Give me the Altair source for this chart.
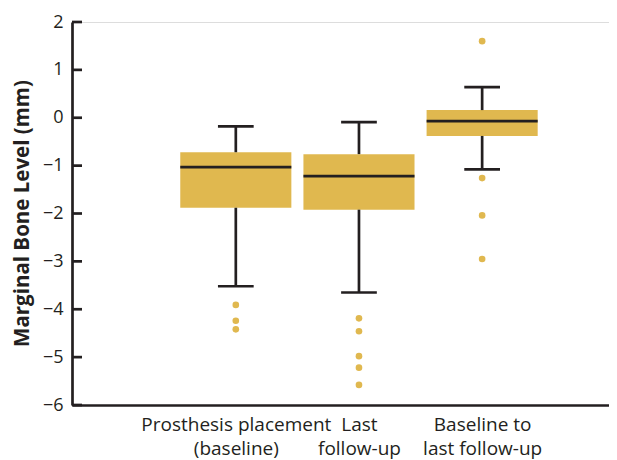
import altair as alt
import pandas as pd

# ---- data ----
positions = [1, 2, 3]
label_lines = [["Prosthesis placement", "(baseline)"],
               ["Last", "follow-up"],
               ["Baseline to", "last follow-up"]]
lower_whisker = [-3.52, -3.65, -1.08]
q1 = [-1.88, -1.92, -0.38]
median = [-1.03, -1.22, -0.07]
q3 = [-0.72, -0.76, 0.16]
upper_whisker = [-0.18, -0.09, 0.64]
outlier_pos = [1, 1, 1, 2, 2, 2, 2, 2, 3, 3, 3, 3]
outlier_val = [-3.91, -4.24, -4.42, -4.19, -4.46, -4.98, -5.22, -5.58,
               1.60, -1.26, -2.04, -2.95]
y_ticks = [2, 1, 0, -1, -2, -3, -4, -5, -6]

GOLD = "#e0b84f"
DARK = "#231f20"
FONT = "Open Sans"
BOX_HALF = 0.451
CAP_HALF = 0.145

boxes = pd.DataFrame({
    "pos": positions, "lo": lower_whisker, "q1": q1, "med": median,
    "q3": q3, "hi": upper_whisker,
})
boxes["x_lo"] = boxes["pos"] - BOX_HALF
boxes["x_hi"] = boxes["pos"] + BOX_HALF
boxes["c_lo"] = boxes["pos"] - CAP_HALF
boxes["c_hi"] = boxes["pos"] + CAP_HALF
outs = pd.DataFrame({"pos": outlier_pos, "val": outlier_val})
ticks = pd.DataFrame({"t": y_ticks})

label_expr = ("datum.value == 1 ? " + str(label_lines[0]) +
              " : datum.value == 2 ? " + str(label_lines[1]) +
              " : " + str(label_lines[2]))
y_label_expr = "datum.value < 0 ? '\u2212' + abs(datum.value) : '' + datum.value"

xscale = alt.Scale(domain=[-0.33, 4.03], nice=False, zero=False)
yscale = alt.Scale(domain=[-6, 2], nice=False, zero=False)

xaxis = alt.Axis(values=positions, labelExpr=label_expr, ticks=False,
                 title=None, labelFontSize=19, labelFont=FONT, labelColor=DARK,
                 labelPadding=10, labelLineHeight=24, labelOverlap=False,
                 labelLimit=0, domainColor=DARK,
                 domainWidth=2.7, grid=False, labelAngle=0)
yaxis = alt.Axis(values=y_ticks, ticks=False, labelExpr=y_label_expr,
                 title="Marginal Bone Level (mm)", titleFont=FONT,
                 titleFontSize=20.5, titleFontWeight="bold", titleColor=DARK,
                 titleX=-50, titleY=191, titleAngle=-90, titleAlign="center",
                 titleBaseline="middle",
                 labelFontSize=18, labelFont=FONT, labelColor=DARK,
                 labelPadding=9, labelOverlap=False,
                 domainColor=DARK, domainWidth=2.7, grid=False)

base = alt.Chart(boxes)

rect = base.mark_rect(color=GOLD).encode(
    x=alt.X("x_lo:Q", scale=xscale, axis=xaxis),
    x2="x_hi:Q",
    y=alt.Y("q1:Q", scale=yscale, axis=yaxis),
    y2="q3:Q",
)
whisk_up = base.mark_rule(color=DARK, strokeWidth=2.7).encode(
    x="pos:Q", y="q3:Q", y2="hi:Q")
whisk_dn = base.mark_rule(color=DARK, strokeWidth=2.7).encode(
    x="pos:Q", y="lo:Q", y2="q1:Q")
cap_up = base.mark_rule(color=DARK, strokeWidth=2.7).encode(
    x="c_lo:Q", x2="c_hi:Q", y="hi:Q")
cap_dn = base.mark_rule(color=DARK, strokeWidth=2.7).encode(
    x="c_lo:Q", x2="c_hi:Q", y="lo:Q")
med = base.mark_rule(color=DARK, strokeWidth=2.7).encode(
    x="x_lo:Q", x2="x_hi:Q", y="med:Q")
pts = alt.Chart(outs).mark_circle(color=GOLD, opacity=1, size=44).encode(
    x="pos:Q", y="val:Q")
tk = alt.Chart(ticks).mark_rule(color=DARK, strokeWidth=2.7).encode(
    y="t:Q", x=alt.value(0), x2=alt.value(10))

chart = alt.layer(rect, whisk_up, whisk_dn, cap_up, cap_dn, med, pts, tk).properties(
    width=537, height=383,
    autosize=alt.AutoSizeParams(type="none"),
    padding={"left": 64, "top": 14, "right": 0, "bottom": 55},
).configure_view(stroke=None).configure(background="white")

chart.save("out.html", embed_options={"renderer": "svg", "actions": False})
